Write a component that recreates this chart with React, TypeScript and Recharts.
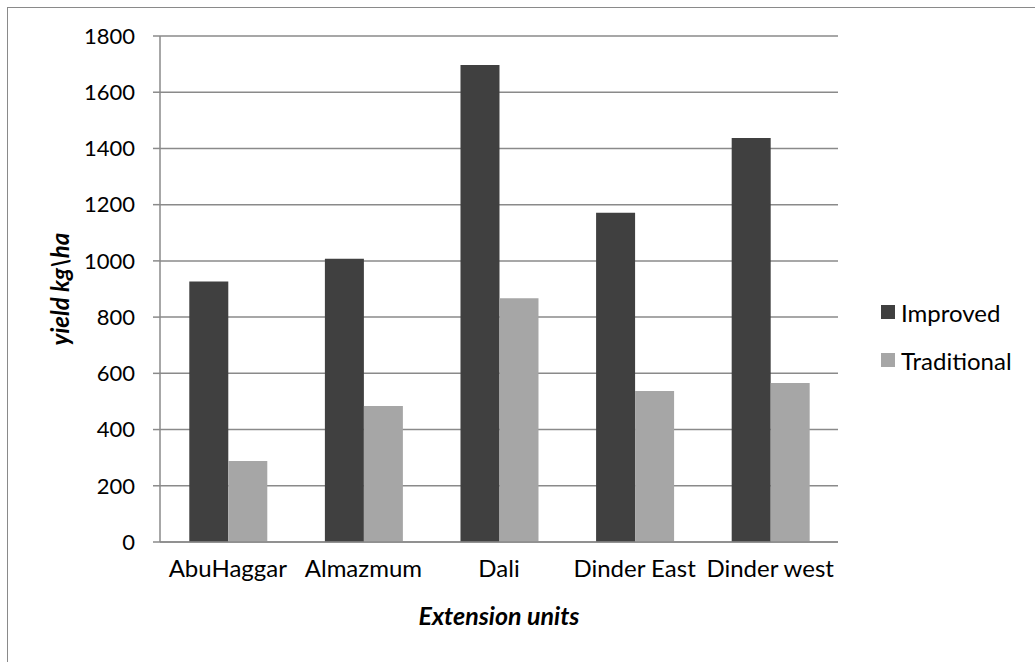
import React from "react"
import { Bar, BarChart, CartesianGrid, Legend, XAxis, YAxis } from "recharts"

const categories = ["AbuHaggar", "Almazmum", "Dali", "Dinder East", "Dinder west"]
const improved = [927, 1008, 1697, 1171, 1437]
const traditional = [288, 484, 867, 537, 566]
const yTicks = [0, 200, 400, 600, 800, 1000, 1200, 1400, 1600, 1800]
const seriesNames = ["Improved", "Traditional"]
const seriesColors = ["#404040", "#a6a6a6"]

const data = categories.map((name, i) => ({
    name,
    Improved: improved[i],
    Traditional: traditional[i],
}))

const font = "Lato, 'Open Sans', sans-serif"
const axisGrey = "#8a8a8a"

const LegendBox = () => (
    <div style={{ fontFamily: font, fontSize: 24, color: "#000" }}>
        {seriesNames.map((n, i) => (
            <div key={n} style={{ display: "flex", alignItems: "center", height: 48 }}>
                <span
                    style={{
                        display: "inline-block",
                        width: 14,
                        height: 14,
                        background: seriesColors[i],
                        marginRight: 6,
                    }}
                />
                <span>{n}</span>
            </div>
        ))}
    </div>
)

export default function App() {
    return (
        <div style={{ position: "absolute", left: 0, top: 0, width: 1035, height: 662, background: "#fff" }}>
            <div
                style={{
                    position: "absolute",
                    left: 7,
                    top: 7,
                    width: 1028,
                    height: 655,
                    borderTop: "1px solid #8a8a8a",
                    borderLeft: "1px solid #8a8a8a",
                    boxSizing: "border-box",
                }}
            />
            <BarChart
                width={1035}
                height={662}
                data={data}
                margin={{ top: 36, right: 197, bottom: 0, left: 60 }}
                barCategoryGap="21.6%"
                barGap={0}
                style={{ position: "absolute", left: 0, top: 0 }}
            >
                <CartesianGrid vertical={false} stroke={axisGrey} strokeWidth={1.5} />
                <XAxis
                    dataKey="name"
                    height={120}
                    interval={0}
                    tickLine={false}
                    axisLine={{ stroke: axisGrey, strokeWidth: 1.5 }}
                    tickMargin={12}
                    tick={{ fill: "#000", fontSize: 24, fontFamily: font }}
                    label={{
                        content: ({ viewBox }: any) => (
                            <text
                                x={viewBox.x + viewBox.width / 2}
                                y={625}
                                textAnchor="middle"
                                fontFamily={font}
                                fontSize={25}
                                fontWeight="bold"
                                fontStyle="italic"
                                fill="#000"
                            >
                                Extension units
                            </text>
                        ),
                    }}
                />
                <YAxis
                    width={100}
                    domain={[0, 1800]}
                    ticks={yTicks}
                    interval={0}
                    tickSize={7}
                    tickMargin={18}
                    tickLine={{ stroke: axisGrey, strokeWidth: 1.5 }}
                    axisLine={{ stroke: axisGrey, strokeWidth: 1.5 }}
                    tick={{ fill: "#000", fontSize: 22, fontFamily: font }}
                    label={{
                        content: ({ viewBox }: any) => {
                            const cx = 59
                            const cy = viewBox.y + viewBox.height / 2
                            return (
                                <text
                                    x={cx}
                                    y={cy}
                                    transform={`rotate(-90 ${cx} ${cy})`}
                                    textAnchor="middle"
                                    dominantBaseline="central"
                                    fontFamily={font}
                                    fontSize={24}
                                    fontWeight="bold"
                                    fontStyle="italic"
                                    fill="#000"
                                >
                                    yield kg\ha
                                </text>
                            )
                        },
                    }}
                />
                <Legend
                    layout="horizontal"
                    verticalAlign="middle"
                    content={() => <LegendBox />}
                    wrapperStyle={{ left: 881, top: 288, width: 154 }}
                />
                <Bar dataKey="Improved" fill={seriesColors[0]} isAnimationActive={false} />
                <Bar dataKey="Traditional" fill={seriesColors[1]} isAnimationActive={false} />
            </BarChart>
        </div>
    )
}
